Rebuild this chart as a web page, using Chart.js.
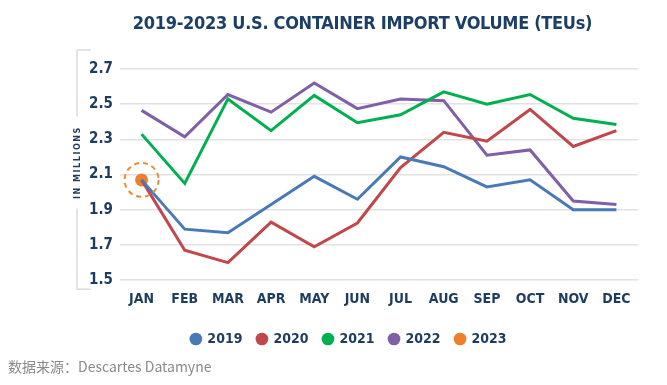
<!DOCTYPE html>
<html>
<head>
<meta charset="utf-8">
<script src="https://cdn.jsdelivr.net/npm/chart.js@4.4.0/dist/chart.umd.min.js"></script>
<style>
  body { margin: 0; background: #fff; }
  #wrap { position: relative; width: 667px; height: 385px; }
  #title {
    position: absolute; left: 0; top: 12px; width: 667px; padding-left: 58px; box-sizing: border-box;
    text-align: center; font: bold 18px "Liberation Sans Narrow", "DejaVu Sans Condensed", sans-serif;
    color: #1b3f66; letter-spacing: -0.3px;
  }
  #source {
    position: absolute; left: 8px; top: 356px;
    font: 14px "Noto Sans CJK SC", sans-serif; color: #8a8a8a;
  }
</style>
</head>
<body>
<div id="wrap">
  <canvas id="chart" width="667" height="385"></canvas>
  <div id="title">2019-2023 U.S. CONTAINER IMPORT VOLUME (TEUs)</div>
  <div id="source">数据来源：Descartes Datamyne</div>
</div>
<script>
  const months = ['JAN', 'FEB', 'MAR', 'APR', 'MAY', 'JUN', 'JUL', 'AUG', 'SEP', 'OCT', 'NOV', 'DEC'];
  const v2019 = [2.07, 1.79, 1.77, 1.93, 2.09, 1.96, 2.20, 2.145, 2.03, 2.07, 1.90, 1.90];
  const v2020 = [2.07, 1.67, 1.60, 1.83, 1.69, 1.825, 2.14, 2.34, 2.29, 2.47, 2.26, 2.35];
  const v2021 = [2.33, 2.05, 2.53, 2.35, 2.55, 2.395, 2.44, 2.57, 2.50, 2.555, 2.42, 2.385];
  const v2022 = [2.465, 2.315, 2.555, 2.455, 2.62, 2.475, 2.53, 2.52, 2.21, 2.24, 1.95, 1.93];
  const v2023 = [2.07, null, null, null, null, null, null, null, null, null, null, null];
  const yTicks = [1.5, 1.7, 1.9, 2.1, 2.3, 2.5, 2.7];

  const navy = '#1d3c5e';
  const narrow = '"Liberation Sans Narrow", "DejaVu Sans Condensed", sans-serif';

  function line(label, data, color) {
    return {
      label: label, data: data, borderColor: color, backgroundColor: color,
      borderWidth: 3, pointRadius: 0, pointHoverRadius: 0, tension: 0
    };
  }

  const extras = {
    id: 'extras',
    afterDatasetsDraw(chart) {
      const ctx = chart.ctx;
      const a = chart.chartArea;
      // dashed ring round the 2023 point
      const p = chart.getDatasetMeta(4).data[0];
      ctx.save();
      ctx.strokeStyle = '#ee8a3a';
      ctx.lineWidth = 2;
      ctx.setLineDash([5, 4]);
      ctx.beginPath();
      ctx.arc(p.x, p.y, 17, 0, Math.PI * 2);
      ctx.stroke();
      ctx.restore();

      // left bracket + axis title
      const x = a.left - 43;
      const top = a.top - 19, bot = a.bottom + 9;
      const mid = (a.top + a.bottom) / 2 - 12;
      ctx.save();
      ctx.strokeStyle = '#dcdcdc';
      ctx.lineWidth = 1.5;
      ctx.beginPath();
      ctx.moveTo(x + 14, top); ctx.lineTo(x, top); ctx.lineTo(x, mid - 46);
      ctx.moveTo(x, mid + 46); ctx.lineTo(x, bot); ctx.lineTo(x + 14, bot);
      ctx.stroke();
      ctx.translate(x + 1, mid);
      ctx.rotate(-Math.PI / 2);
      ctx.fillStyle = navy;
      ctx.font = 'bold 9px ' + narrow;
      ctx.textAlign = 'center';
      ctx.textBaseline = 'middle';
      ctx.letterSpacing = '1.5px';
      ctx.fillText('IN MILLIONS', 0, 0);
      ctx.restore();
    }
  };

  new Chart(document.getElementById('chart'), {
    type: 'line',
    data: {
      labels: months,
      datasets: [
        line('2019', v2019, '#4a7ab5'),
        line('2020', v2020, '#c0474a'),
        line('2021', v2021, '#00b050'),
        line('2022', v2022, '#7f5fa6'),
        Object.assign(line('2023', v2023, '#ee7f2d'), { pointRadius: 6.5, pointBorderWidth: 0 })
      ]
    },
    options: {
      responsive: false,
      animation: false,
      layout: { padding: { left: 60, right: 29, top: 69, bottom: 29 } },
      plugins: {
        title: { display: false },
        tooltip: { enabled: false },
        legend: {
          position: 'bottom',
          labels: {
            usePointStyle: true, pointStyle: 'circle', boxWidth: 9, boxHeight: 9,
            padding: 15, color: navy, font: { family: narrow, size: 14, weight: 'bold' },
            generateLabels(chart) {
              return Chart.defaults.plugins.legend.labels.generateLabels(chart)
                .map(item => Object.assign(item, { lineWidth: 0, fillStyle: item.strokeStyle }));
            }
          }
        }
      },
      scales: {
        x: {
          offset: true,
          afterFit(s) { s.height += 6; },
          grid: { display: false },
          border: { display: false },
          ticks: { color: navy, padding: 3, font: { family: narrow, size: 14, weight: 'bold' } }
        },
        y: {
          min: 1.5, max: 2.7,
          afterFit(s) { s.width = 60; },
          afterBuildTicks(s) { s.ticks = yTicks.map(v => ({ value: v })); },
          grid: { color: '#e2e2e2', lineWidth: 1.5, drawTicks: false },
          border: { display: false },
          ticks: { color: navy, padding: 7, font: { family: narrow, size: 15, weight: 'bold' } }
        }
      }
    },
    plugins: [extras]
  });
</script>
</body>
</html>
